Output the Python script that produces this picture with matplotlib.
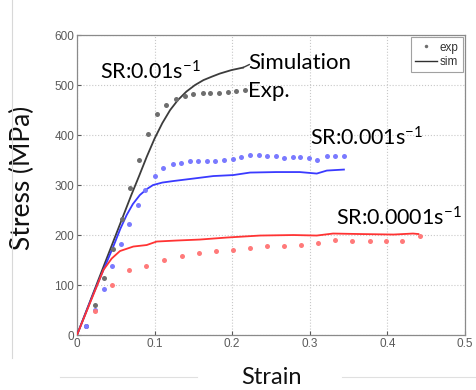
"""Stress-strain curves at three strain rates: exp (dots) vs sim (lines)."""
import matplotlib
matplotlib.use("Agg")
import matplotlib.pyplot as plt
from matplotlib.lines import Line2D

TXT = "Lato"
GRAY = "#5a5a5a"
plt.rcParams["font.family"] = ["Liberation Sans"]
plt.rcParams["mathtext.fontset"] = "custom"
plt.rcParams["mathtext.rm"] = TXT
plt.rcParams["mathtext.default"] = "rm"

# SR 0.01 s^-1 (black)
exp_01_strain = [0.0116, 0.0228, 0.0348, 0.0468, 0.0576, 0.0687, 0.0799, 0.091, 0.103, 0.115,
                 0.127, 0.139, 0.150, 0.162, 0.172, 0.183, 0.195, 0.205, 0.217]
exp_01_stress = [19, 61, 115, 172, 233, 295, 351, 403, 442, 461,
                 473, 479, 483, 485, 485, 485, 486, 489, 490]
sim_01_strain = [0.0, 0.02, 0.04, 0.06, 0.07, 0.08, 0.09, 0.10, 0.11, 0.12, 0.13, 0.141,
                 0.152, 0.163, 0.174, 0.184, 0.199, 0.214]
sim_01_stress = [0, 80, 160, 240, 280, 318, 357, 393, 424, 450, 470, 487,
                 500, 510, 517, 523, 530, 535]

# SR 0.001 s^-1 (blue)
exp_001_strain = [0.0116, 0.0228, 0.0344, 0.0455, 0.0563, 0.0674, 0.0782, 0.0881, 0.1001, 0.1113,
                  0.1233, 0.1345, 0.1456, 0.1564, 0.167, 0.178, 0.1894, 0.2006, 0.2118, 0.223,
                  0.234, 0.245, 0.2564, 0.2668, 0.278, 0.288, 0.299, 0.3097, 0.3217, 0.3325, 0.344]
exp_001_stress = [19, 50, 92, 138, 182, 223, 261, 291, 319, 335,
                  343, 345, 348, 348, 348, 349, 350, 353, 357, 360,
                  360, 359, 358, 355, 356, 356, 355, 351, 359, 359, 359]
sim_001_strain = [0.0, 0.02, 0.0468, 0.056, 0.064, 0.072, 0.081, 0.09, 0.098, 0.11, 0.124,
                  0.15, 0.1757, 0.2014, 0.223, 0.257, 0.287, 0.309, 0.322, 0.344]
sim_001_stress = [0, 78, 177, 213, 240, 262, 280, 292, 300, 305, 308,
                  313, 318, 320, 325, 326, 326, 323, 329, 331]

# SR 0.0001 s^-1 (red)
exp_0001_strain = [0.0228, 0.0455, 0.0674, 0.0893, 0.1125, 0.135, 0.157, 0.179, 0.2006, 0.223,
                   0.245, 0.267, 0.289, 0.3106, 0.333, 0.355, 0.377, 0.3986, 0.419, 0.4416]
exp_0001_stress = [49, 101, 130, 139, 151, 159, 164, 169, 170, 174,
                   178, 179, 180, 184, 191, 188, 189, 189, 189, 198]
sim_0001_strain = [0.0, 0.034, 0.0447, 0.0554, 0.0726, 0.0898, 0.1027, 0.128, 0.1585, 0.193,
                   0.236, 0.279, 0.309, 0.330, 0.365, 0.408, 0.433, 0.44]
sim_0001_stress = [0, 130, 153, 168, 177, 180, 187, 189, 191, 195,
                   199, 200, 199, 203, 202, 201, 203, 202]

series = [
    (exp_01_strain, exp_01_stress, sim_01_strain, sim_01_stress, "#6e6e6e", "#3c3c3c"),
    (exp_001_strain, exp_001_stress, sim_001_strain, sim_001_stress, "#7a7aff", "#3a3aff"),
    (exp_0001_strain, exp_0001_stress, sim_0001_strain, sim_0001_stress, "#ff7a7a", "#ff3333"),
]

fig = plt.figure(figsize=(4.77, 3.9), dpi=100)
fig.patch.set_facecolor("white")
ax = fig.add_axes([0.1614, 0.141, 0.8134, 0.769])

for xe, ye, xs, ys, ce, cs in series:
    ax.plot(xs, ys, color=cs, linewidth=1.3, zorder=3)
    ax.plot(xe, ye, linestyle="none", marker="o", markersize=3.6, color=ce,
            markeredgewidth=0, zorder=4)

ax.set_xlim(0, 0.5)
ax.set_ylim(0, 600)
ax.set_xticks([0, 0.1, 0.2, 0.3, 0.4, 0.5])
ax.set_xticklabels(["0", "0.1", "0.2", "0.3", "0.4", "0.5"])
ax.set_yticks(range(0, 601, 100))
ax.tick_params(labelsize=8.5, colors=GRAY, length=3, direction="in", pad=2)
for s in ax.spines.values():
    s.set_color("#8a8a8a")
    s.set_linewidth(0.9)
ax.grid(True, color="#c8c8c8", linestyle=":", linewidth=0.8)
ax.set_axisbelow(True)

ax.set_xlabel("Strain", fontsize=17, family=TXT, color="#111111")
ax.set_ylabel("Stress (MPa)", fontsize=19, family=TXT, color="#111111")
ax.xaxis.set_label_coords(0.5, -0.105, transform=ax.transAxes)
ax.yaxis.set_label_coords(-0.108, 0.525, transform=ax.transAxes)

# annotations
ax.text(0.03, 526, r"SR:0.01s$^{-1}$", fontsize=15.5, family=TXT, va="center")
ax.text(0.221, 545, "Simulation", fontsize=16, family=TXT, va="center")
ax.text(0.221, 488, "Exp.", fontsize=16, family=TXT, va="center")
ax.plot([0.214, 0.222], [535, 541], color="#3c3c3c", linewidth=1.0)
ax.text(0.30, 394, r"SR:0.001s$^{-1}$", fontsize=15.5, family=TXT, va="center")
ax.text(0.334, 234, r"SR:0.0001s$^{-1}$", fontsize=15.5, family=TXT, va="center")

handles = [
    Line2D([], [], linestyle="none", marker="o", markersize=2.5, color="#6e6e6e", markeredgewidth=0),
    Line2D([], [], color="#303030", linewidth=1.0),
]
leg = ax.legend(handles, ["exp", "sim"], loc="upper right", fontsize=8.5, frameon=True,
                fancybox=False, borderpad=0.35, handlelength=1.9, handletextpad=0.2,
                labelspacing=0.2, borderaxespad=0.2)
leg.get_frame().set_edgecolor("#8a8a8a")
leg.get_frame().set_linewidth(0.8)
for t in leg.get_texts():
    t.set_color("#333333")

# faint screenshot edges
fig.add_artist(Line2D([12 / 477, 12 / 477], [1 - 358 / 390, 1], color="#d8d8d8", linewidth=0.8))
fig.add_artist(Line2D([60 / 477, 197 / 477], [1 - 377 / 390] * 2, color="#e0e0e0", linewidth=0.8))
fig.add_artist(Line2D([342 / 477, 1], [1 - 377 / 390] * 2, color="#e0e0e0", linewidth=0.8))

fig.savefig("out.png", dpi=100, facecolor="white")
